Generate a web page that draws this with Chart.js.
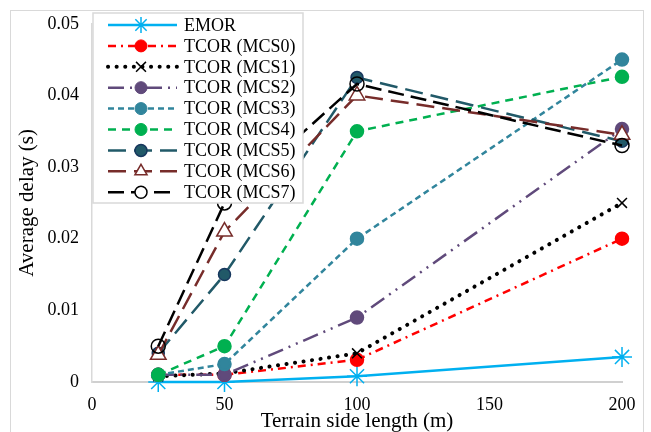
<!DOCTYPE html>
<html>
<head>
<meta charset="utf-8">
<script src="https://cdn.jsdelivr.net/npm/chart.js@4.4.1/dist/chart.umd.min.js"></script>
<style>
  html, body { margin: 0; padding: 0; background: #fff; }
  #wrap { position: relative; width: 651px; height: 432px; }
  #frame { position: absolute; left: 10px; top: 10px; width: 632px; height: 430px; border: 1px solid #d9d9d9; }
  canvas { position: absolute; left: 0; top: 0; }
</style>
</head>
<body>
<div id="wrap">
  <div id="frame"></div>
  <canvas id="chart" width="651" height="432"></canvas>
</div>
<script>
// terrain side length (m)
var sideLength = [25, 50, 100, 200];

// average delay (s) per scheme
var emor    = [0, 0, 0.0008, 0.0035];
var tcorMcs0 = [0.001, 0.001, 0.0031, 0.020];
var tcorMcs1 = [0.0008, 0.0012, 0.004, 0.025];
var tcorMcs2 = [0.001, 0.001, 0.009, 0.0353];
var tcorMcs3 = [0.001, 0.0025, 0.020, 0.045];
var tcorMcs4 = [0.001, 0.005, 0.035, 0.0426];
var tcorMcs5 = [0.004, 0.015, 0.0425, 0.0336];
var tcorMcs6 = [0.0038, 0.021, 0.040, 0.0345];
var tcorMcs7 = [0.005, 0.025, 0.0416, 0.033];

var xTicks = [0, 50, 100, 150, 200];
var yTicks = [0, 0.01, 0.02, 0.03, 0.04, 0.05];

function pts(vals) {
    return vals.map(function (v, i) { return { x: sideLength[i], y: v }; });
}

var serif = "'Liberation Serif', 'Times New Roman', serif";

var datasets = [
    { label: 'EMOR', data: pts(emor), borderColor: '#00b0f0', backgroundColor: '#00b0f0',
      borderWidth: 2.5, pointStyle: 'star', pointRadius: 10, pointBorderWidth: 1.5, legendRadius: 8 },
    { label: 'TCOR (MCS0)', data: pts(tcorMcs0), borderColor: '#ff0000', backgroundColor: '#ff0000',
      borderWidth: 2.5, borderDash: [8, 5, 2, 5], pointStyle: 'circle', pointRadius: 6, legendRadius: 6 },
    { label: 'TCOR (MCS1)', data: pts(tcorMcs1), borderColor: '#000000', backgroundColor: '#000000',
      borderWidth: 4, borderDash: [0.1, 8.5], borderCapStyle: 'round', pointStyle: 'crossRot', pointRadius: 7,
      pointBorderWidth: 1.5, legendRadius: 7 },
    { label: 'TCOR (MCS2)', data: pts(tcorMcs2), borderColor: '#604a7b', backgroundColor: '#604a7b',
      borderWidth: 2.5, borderDash: [16, 6, 2, 6, 2, 6], pointStyle: 'circle', pointRadius: 6, legendRadius: 6 },
    { label: 'TCOR (MCS3)', data: pts(tcorMcs3), borderColor: '#31859c', backgroundColor: '#31859c',
      borderWidth: 2.5, borderDash: [6, 4], pointStyle: 'circle', pointRadius: 6, legendRadius: 6 },
    { label: 'TCOR (MCS4)', data: pts(tcorMcs4), borderColor: '#00b050', backgroundColor: '#00b050',
      borderWidth: 2.5, borderDash: [8, 6], pointStyle: 'circle', pointRadius: 6, legendRadius: 6 },
    { label: 'TCOR (MCS5)', data: pts(tcorMcs5), borderColor: '#215968', backgroundColor: '#215968',
      pointBorderColor: '#17375e', borderWidth: 2.5, borderDash: [18, 8], pointStyle: 'circle', pointRadius: 6,
      pointBorderWidth: 1.5, legendRadius: 6 },
    { label: 'TCOR (MCS6)', data: pts(tcorMcs6), borderColor: '#772c2a', backgroundColor: '#ffffff',
      borderWidth: 2.5, borderDash: [18, 8], pointStyle: 'triangle', pointRadius: 9, pointBorderWidth: 1.5,
      legendRadius: 7 },
    { label: 'TCOR (MCS7)', data: pts(tcorMcs7), borderColor: '#000000', backgroundColor: 'rgba(0,0,0,0)',
      borderWidth: 2.5, borderDash: [16, 7], pointStyle: 'circle', pointRadius: 7, pointBorderWidth: 1.5,
      legendRadius: 6 }
];
datasets.forEach(function (ds, i) {
    ds.order = datasets.length - i; // later series on top, like the original
    ds.fill = false;
    ds.tension = 0;
    ds.clip = false;
    ds.pointHoverRadius = ds.pointRadius;
});

// legend drawn inside the plot, top left, like the original
var insideLegend = {
    id: 'insideLegend',
    afterDatasetsDraw: function (chart) {
        var ctx = chart.ctx;
        var bx = 93, by = 13, bw = 210, bh = 190;
        ctx.save();
        ctx.fillStyle = '#ffffff';
        ctx.fillRect(bx, by, bw, bh);
        ctx.strokeStyle = '#d9d9d9';
        ctx.lineWidth = 1.5;
        ctx.strokeRect(bx, by, bw, bh);
        chart.data.datasets.forEach(function (ds, i) {
            var y = 25 + i * 20.9;
            ctx.save();
            ctx.strokeStyle = ds.borderColor;
            ctx.lineWidth = ds.borderWidth;
            ctx.lineCap = ds.borderCapStyle || 'butt';
            ctx.setLineDash(ds.borderDash || []);
            ctx.beginPath();
            ctx.moveTo(108, y);
            ctx.lineTo(177, y);
            ctx.stroke();
            ctx.restore();
            ctx.save();
            ctx.fillStyle = ds.backgroundColor === 'rgba(0,0,0,0)' ? '#ffffff' : ds.backgroundColor;
            ctx.strokeStyle = ds.pointBorderColor || ds.borderColor;
            ctx.lineWidth = ds.pointBorderWidth || 1;
            ctx.setLineDash([]);
            Chart.helpers.drawPoint(ctx, {
                pointStyle: ds.pointStyle,
                radius: ds.legendRadius,
                rotation: 0,
                borderWidth: ds.pointBorderWidth || 1
            }, 141, y);
            ctx.restore();
            ctx.fillStyle = '#000';
            ctx.font = '18px ' + serif;
            ctx.textBaseline = 'middle';
            ctx.textAlign = 'left';
            ctx.fillText(ds.label, 184, y + 1);
        });
        ctx.restore();
    }
};

var ctx = document.getElementById('chart').getContext('2d');
var chart = new Chart(ctx, {
    type: 'line',
    data: { datasets: datasets },
    options: {
        responsive: false,
        animation: false,
        layout: { padding: { left: 0, top: 22, right: 29, bottom: 0 } },
        plugins: {
            legend: { display: false },
            tooltip: { enabled: false }
        },
        scales: {
            x: {
                type: 'linear',
                min: 0,
                max: 200,
                afterBuildTicks: function (s) { s.ticks = xTicks.map(function (v) { return { value: v }; }); },
                afterFit: function (s) { s.height = 50; },
                grid: { display: false, drawTicks: false },
                border: { display: true, color: '#d0d0d0', width: 2 },
                ticks: { color: '#000', padding: 12, font: { family: serif, size: 18 } },
                title: { display: true, text: 'Terrain side length (m)', color: '#000',
                         padding: { top: -2, bottom: -2 }, font: { family: serif, size: 21 } }
            },
            y: {
                min: 0,
                max: 0.05,
                afterBuildTicks: function (s) { s.ticks = yTicks.map(function (v) { return { value: v }; }); },
                afterFit: function (s) { s.width = 92; },
                grid: { display: false, drawTicks: false },
                border: { display: true, color: '#d9d9d9', width: 1.5 },
                ticks: {
                    color: '#000', padding: 13, font: { family: serif, size: 18 },
                    callback: function (v) { return v === 0 ? '0' : v.toFixed(2); }
                },
                title: { display: true, text: 'Average delay (s)', color: '#000',
                         padding: { top: 15, bottom: 0 }, font: { family: serif, size: 21 } }
            }
        }
    },
    plugins: [insideLegend]
});
</script>
</body>
</html>
